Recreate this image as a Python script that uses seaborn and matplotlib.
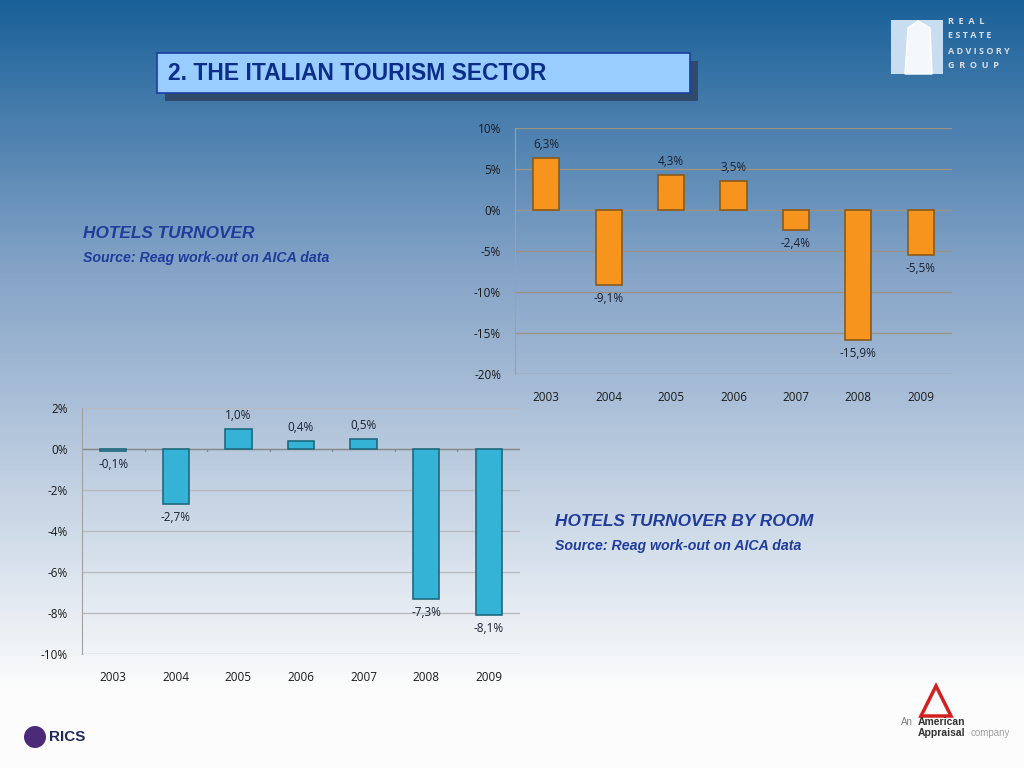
import numpy as np
import pandas as pd
import seaborn as sns
import matplotlib.pyplot as plt
from matplotlib.patches import Rectangle, Polygon, Ellipse

years = ['2003', '2004', '2005', '2006', '2007', '2008', '2009']
turnover = [6.3, -9.1, 4.3, 3.5, -2.4, -15.9, -5.5]
turnover_room = [-0.1, -2.7, 1.0, 0.4, 0.5, -7.3, -8.1]
top_ticks = [10, 5, 0, -5, -10, -15, -20]
bottom_ticks = [2, 0, -2, -4, -6, -8, -10]

sns.set_style('white')
plt.rcParams['font.family'] = ['Open Sans', 'DejaVu Sans']

fig = plt.figure(figsize=(10.24, 7.68), dpi=100)

# slide background: blue at top fading to white
bg = fig.add_axes([0, 0, 1, 1], zorder=-10)
grad = np.linspace(0, 1, 256)
top_col = np.array([0.10, 0.38, 0.60])
mid_col = np.array([0.52, 0.64, 0.78])
bot_col = np.array([0.99, 0.99, 0.99])
rgb = np.zeros((256, 1, 3))
for i, g in enumerate(grad):
    if g < 0.35:
        t = g / 0.35
        rgb[i, 0] = top_col * (1 - t) + mid_col * t
    else:
        t = min((g - 0.35) / 0.55, 1)
        rgb[i, 0] = mid_col * (1 - t) + bot_col * t
bg.imshow(rgb, aspect='auto', extent=[0, 1, 0, 1], origin='upper')
bg.set_xlim(0, 1)
bg.set_ylim(0, 1)
bg.axis('off')

arial = ['Liberation Sans', 'DejaVu Sans']

# title box with shadow
bg.add_patch(Rectangle((165 / 1024, 1 - 101 / 768), 533 / 1024, 40 / 768,
                       facecolor='#2f4a6a', edgecolor='none'))
bg.add_patch(Rectangle((157 / 1024, 1 - 93 / 768), 533 / 1024, 40 / 768,
                       facecolor='#99ccff', edgecolor='#1a3fa0', linewidth=1.2))
fig.text(168 / 1024, 1 - 73 / 768, '2. THE ITALIAN TOURISM SECTOR',
         fontsize=16.5, fontweight='bold', color='#0b2e8a', va='center',
         family=arial)

# section texts
for x, y, s, fs in [(83, 233, 'HOTELS TURNOVER', 12.4),
                    (83, 258, 'Source: Reag work-out on AICA data', 10.2),
                    (555, 521, 'HOTELS TURNOVER BY ROOM', 12.4),
                    (555, 546, 'Source: Reag work-out on AICA data', 10.2)]:
    fig.text(x / 1024, 1 - y / 768, s, fontsize=fs, fontweight='bold',
             style='italic', color='#1f3c9c', va='center', family=arial)

# logos (approximate)
bg.add_patch(Rectangle((891 / 1024, 1 - 74 / 768), 52 / 1024, 54 / 768,
                       facecolor='#c8ddf0', edgecolor='none'))
bg.add_patch(Polygon([(905 / 1024, 1 - 74 / 768), (908 / 1024, 1 - 28 / 768),
                      (918 / 1024, 1 - 21 / 768), (930 / 1024, 1 - 28 / 768),
                      (932 / 1024, 1 - 74 / 768)], facecolor='#f4f8fc'))
for i, w in enumerate(['R  E  A  L', 'E S T A T E', 'A D V I S O R Y', 'G  R  O  U  P']):
    fig.text(948 / 1024, 1 - (21 + i * 15) / 768, w, fontsize=6.5,
             color='#d8dde4', fontweight='bold', va='center')
fig.text(49 / 1024, 1 - 737 / 768, 'RICS', fontsize=11, fontweight='bold',
         color='#1d2a5a', va='center', family=arial)
bg.add_patch(Ellipse((35 / 1024, 1 - 737 / 768), 22 / 1024, 22 / 768,
                     facecolor='#4b2a7a', edgecolor='none'))
bg.add_patch(Polygon([(921 / 1024, 1 - 716 / 768), (936 / 1024, 1 - 686 / 768),
                      (951 / 1024, 1 - 716 / 768)], facecolor='none',
                     edgecolor='#d42020', linewidth=2.5))
fig.text(901 / 1024, 1 - 722 / 768, 'An', fontsize=7, color='#808080', va='center',
         family=arial)
fig.text(918 / 1024, 1 - 722 / 768, 'American', fontsize=7.5, fontweight='bold',
         color='#333333', va='center', family=arial)
fig.text(918 / 1024, 1 - 733 / 768, 'Appraisal', fontsize=7.5, fontweight='bold',
         color='#333333', va='center', family=arial)
fig.text(971 / 1024, 1 - 733 / 768, 'company', fontsize=7, color='#a0a0a0',
         va='center', family=arial)


def fmt(v):
    return f'{v:.1f}%'.replace('.', ',')


def draw(ax, values, colors, edge, ticks, grid_col, zero_ticks):
    df = pd.DataFrame({'year': years, 'value': values})
    sns.barplot(data=df, x='year', y='value', hue='year', palette=colors,
                legend=False, width=0.42, edgecolor=edge, linewidth=1.2,
                saturation=1, ax=ax, zorder=3)
    ax.set_facecolor('none')
    ax.set_ylim(ticks[-1], ticks[0])
    ax.set_xlim(-0.5, 6.5)
    ax.set_yticks(ticks)
    ax.set_yticklabels([f'{t}%' for t in ticks], fontsize=8.5, color='#1a1a1a')
    ax.yaxis.grid(True, color=grid_col, linewidth=1)
    ax.set_axisbelow(True)
    ax.set_xlabel('')
    ax.set_ylabel('')
    ax.tick_params(axis='x', length=0, labelsize=8.5, colors='#1a1a1a', pad=12)
    ax.tick_params(axis='y', length=0, pad=10)
    for s in ['top', 'right', 'bottom']:
        ax.spines[s].set_visible(False)
    ax.spines['left'].set_color('#a0a0a0')
    for c in ax.containers:
        ax.bar_label(c, labels=[fmt(v) for v in c.datavalues], padding=5,
                     fontsize=8.5, color='#1a2030')
    if zero_ticks:
        ax.axhline(0, color='#888888', linewidth=1, zorder=2)
        for x in np.arange(0.5, 6.5, 1):
            ax.plot([x, x], [0, -0.12], color='#888888', linewidth=1, zorder=2)


ax1 = fig.add_axes([515 / 1024, 1 - 374 / 768, 437 / 1024, 246 / 768])
draw(ax1, turnover, ['#f7941d'] * 7, '#8a5a1a', top_ticks, '#9a9488', False)

ax2 = fig.add_axes([82 / 1024, 1 - 654 / 768, 438 / 1024, 246 / 768])
draw(ax2, turnover_room, ['#7f9aa8'] + ['#35b3d6'] * 6, '#1d6a80',
     bottom_ticks, '#b8bcc0', True)

fig.savefig('out.png', dpi=100)
